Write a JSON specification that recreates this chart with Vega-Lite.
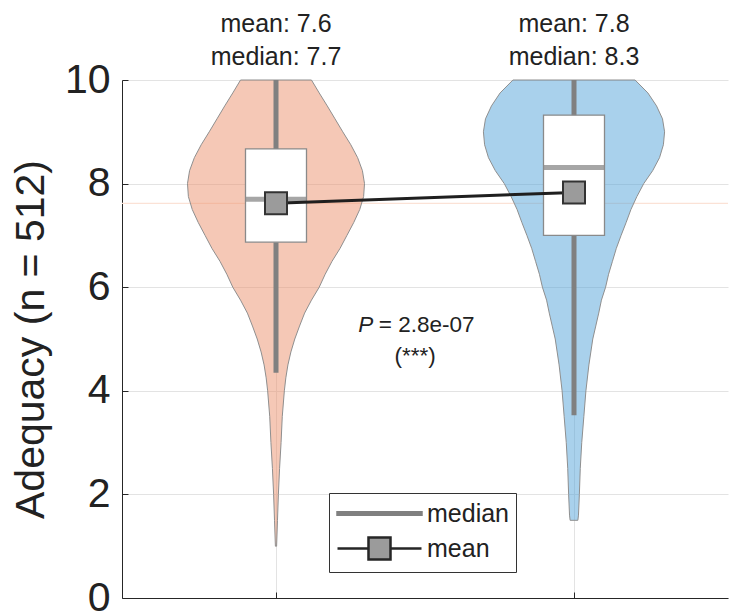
{
  "$schema": "https://vega.github.io/schema/vega-lite/v6.json",
  "width": 606,
  "height": 518,
  "autosize": {"type": "none"},
  "padding": {"left": 122, "top": 80, "right": 22, "bottom": 14},
  "background": "white",
  "config": {"view": {"stroke": null}, "font": "Liberation Sans"},
  "datasets": {
    "stats": [
      {"g": 1, "q1": 6.87, "q3": 8.67, "med": 7.7, "mean": 7.62, "wlo": 4.35, "whi": 10, "meanLabel": "mean: 7.6", "medLabel": "median: 7.7"},
      {"g": 2, "q1": 7.0, "q3": 9.32, "med": 8.31, "mean": 7.83, "wlo": 3.53, "whi": 10, "meanLabel": "mean: 7.8", "medLabel": "median: 8.3"}
    ],
    "v1": [
      {"y": 10.0, "lo": 0.881, "hi": 1.119},
      {"y": 9.75, "lo": 0.855, "hi": 1.145},
      {"y": 9.5, "lo": 0.828, "hi": 1.172},
      {"y": 9.25, "lo": 0.802, "hi": 1.198},
      {"y": 9.0, "lo": 0.776, "hi": 1.224},
      {"y": 8.75, "lo": 0.749, "hi": 1.251},
      {"y": 8.5, "lo": 0.726, "hi": 1.274},
      {"y": 8.25, "lo": 0.710, "hi": 1.290},
      {"y": 8.0, "lo": 0.703, "hi": 1.297},
      {"y": 7.75, "lo": 0.706, "hi": 1.294},
      {"y": 7.5, "lo": 0.719, "hi": 1.281},
      {"y": 7.25, "lo": 0.739, "hi": 1.261},
      {"y": 7.0, "lo": 0.762, "hi": 1.238},
      {"y": 6.75, "lo": 0.785, "hi": 1.215},
      {"y": 6.5, "lo": 0.812, "hi": 1.188},
      {"y": 6.25, "lo": 0.835, "hi": 1.165},
      {"y": 6.0, "lo": 0.855, "hi": 1.145},
      {"y": 5.75, "lo": 0.881, "hi": 1.119},
      {"y": 5.5, "lo": 0.904, "hi": 1.096},
      {"y": 5.25, "lo": 0.921, "hi": 1.079},
      {"y": 5.0, "lo": 0.937, "hi": 1.063},
      {"y": 4.75, "lo": 0.950, "hi": 1.050},
      {"y": 4.5, "lo": 0.960, "hi": 1.040},
      {"y": 4.25, "lo": 0.967, "hi": 1.033},
      {"y": 4.0, "lo": 0.972, "hi": 1.028},
      {"y": 3.5, "lo": 0.979, "hi": 1.021},
      {"y": 3.0, "lo": 0.983, "hi": 1.017},
      {"y": 2.5, "lo": 0.988, "hi": 1.012},
      {"y": 2.0, "lo": 0.992, "hi": 1.008},
      {"y": 1.5, "lo": 0.995, "hi": 1.005},
      {"y": 1.0, "lo": 0.998, "hi": 1.002}
    ],
    "v2": [
      {"y": 10.0, "lo": 1.795, "hi": 2.205},
      {"y": 9.75, "lo": 1.752, "hi": 2.248},
      {"y": 9.5, "lo": 1.723, "hi": 2.277},
      {"y": 9.25, "lo": 1.703, "hi": 2.297},
      {"y": 9.0, "lo": 1.696, "hi": 2.304},
      {"y": 8.75, "lo": 1.700, "hi": 2.300},
      {"y": 8.5, "lo": 1.713, "hi": 2.287},
      {"y": 8.25, "lo": 1.736, "hi": 2.264},
      {"y": 8.0, "lo": 1.766, "hi": 2.234},
      {"y": 7.75, "lo": 1.789, "hi": 2.211},
      {"y": 7.5, "lo": 1.809, "hi": 2.191},
      {"y": 7.25, "lo": 1.825, "hi": 2.175},
      {"y": 7.0, "lo": 1.842, "hi": 2.158},
      {"y": 6.75, "lo": 1.858, "hi": 2.142},
      {"y": 6.5, "lo": 1.871, "hi": 2.129},
      {"y": 6.25, "lo": 1.884, "hi": 2.116},
      {"y": 6.0, "lo": 1.894, "hi": 2.106},
      {"y": 5.75, "lo": 1.908, "hi": 2.092},
      {"y": 5.5, "lo": 1.917, "hi": 2.083},
      {"y": 5.25, "lo": 1.927, "hi": 2.073},
      {"y": 5.0, "lo": 1.937, "hi": 2.063},
      {"y": 4.5, "lo": 1.950, "hi": 2.050},
      {"y": 4.0, "lo": 1.960, "hi": 2.040},
      {"y": 3.5, "lo": 1.967, "hi": 2.033},
      {"y": 3.0, "lo": 1.974, "hi": 2.026},
      {"y": 2.5, "lo": 1.979, "hi": 2.021},
      {"y": 2.0, "lo": 1.982, "hi": 2.018},
      {"y": 1.6, "lo": 1.985, "hi": 2.015},
      {"y": 1.5, "lo": 1.987, "hi": 2.013}
    ],
    "ptext": [{"p": "P", "rest": "= 2.8e-07", "stars": "(***)"}],
    "legendItems": [{"kind": "median"}, {"kind": "mean"}]
  },
  "layer": [
    {
      "data": {"name": "stats"},
      "transform": [{"filter": "datum.g == 1"}],
      "mark": {"type": "rule", "color": "#fbe2d6", "strokeWidth": 1.2},
      "encoding": {
        "y": {
          "field": "mean", "type": "quantitative",
          "scale": {"domain": [0, 10], "nice": false, "zero": false},
          "axis": {
            "values": [0, 2, 4, 6, 8, 10],
            "title": "Adequacy (n = 512)",
            "titleFontSize": 41, "titleFontWeight": "normal", "titleColor": "#222222",
            "titleX": -91, "titleY": 259, "titleBaseline": "middle", "titleAlign": "center", "titleAngle": -90,
            "labelFontSize": 41, "labelColor": "#222222", "labelPadding": 18,
            "tickSize": -6, "tickColor": "#262626",
            "grid": true, "gridColor": "#e3e3e3",
            "domainColor": "#262626"
          }
        }
      }
    },
    {
      "data": {"name": "v1"},
      "mark": {"type": "area", "orient": "horizontal", "fill": "#EB916D", "fillOpacity": 0.5, "stroke": "#8f8f8f", "strokeWidth": 1},
      "encoding": {
        "y": {"field": "y", "type": "quantitative"},
        "x": {
          "field": "lo", "type": "quantitative",
          "scale": {"domain": [0.5, 2.5], "nice": false, "zero": false},
          "axis": {
            "values": [1, 2], "labels": false, "title": null,
            "grid": true, "gridColor": "#e3e3e3",
            "tickSize": -6, "tickColor": "#262626", "domainColor": "#262626"
          }
        },
        "x2": {"field": "hi"}
      }
    },
    {
      "data": {"name": "v2"},
      "mark": {"type": "area", "orient": "horizontal", "fill": "#53A3D9", "fillOpacity": 0.5, "stroke": "#8f8f8f", "strokeWidth": 1},
      "encoding": {
        "y": {"field": "y", "type": "quantitative"},
        "x": {"field": "lo", "type": "quantitative"},
        "x2": {"field": "hi"}
      }
    },
    {
      "data": {"name": "stats"},
      "mark": {"type": "rule", "color": "#808080", "strokeWidth": 5},
      "encoding": {
        "x": {"field": "g", "type": "quantitative"},
        "y": {"field": "wlo", "type": "quantitative"},
        "y2": {"field": "whi"}
      }
    },
    {
      "data": {"name": "stats"},
      "mark": {"type": "bar", "width": 61, "fill": "white", "stroke": "#8a8a8a", "strokeWidth": 1.3},
      "encoding": {
        "x": {"field": "g", "type": "quantitative"},
        "y": {"field": "q1", "type": "quantitative"},
        "y2": {"field": "q3"}
      }
    },
    {
      "data": {"name": "stats"},
      "mark": {"type": "tick", "orient": "horizontal", "size": 60, "thickness": 5, "color": "#808080"},
      "encoding": {
        "x": {"field": "g", "type": "quantitative"},
        "y": {"field": "med", "type": "quantitative"}
      }
    },
    {
      "data": {"name": "stats"},
      "mark": {"type": "line", "color": "#1f1f1f", "strokeWidth": 3},
      "encoding": {
        "x": {"field": "g", "type": "quantitative"},
        "y": {"field": "mean", "type": "quantitative"}
      }
    },
    {
      "data": {"name": "stats"},
      "mark": {"type": "point", "shape": "square", "size": 484, "filled": true, "fill": "#9b9b9b", "stroke": "#333333", "strokeWidth": 2, "opacity": 1},
      "encoding": {
        "x": {"field": "g", "type": "quantitative"},
        "y": {"field": "mean", "type": "quantitative"}
      }
    },
    {
      "data": {"name": "stats"},
      "mark": {"type": "text", "fontSize": 25, "color": "#222222", "dy": -48, "baseline": "alphabetic", "align": "center"},
      "encoding": {
        "x": {"field": "g", "type": "quantitative"},
        "y": {"field": "whi", "type": "quantitative"},
        "text": {"field": "meanLabel"}
      }
    },
    {
      "data": {"name": "stats"},
      "mark": {"type": "text", "fontSize": 25, "color": "#222222", "dy": -15, "baseline": "alphabetic", "align": "center"},
      "encoding": {
        "x": {"field": "g", "type": "quantitative"},
        "y": {"field": "whi", "type": "quantitative"},
        "text": {"field": "medLabel"}
      }
    },
    {
      "data": {"name": "ptext"},
      "mark": {"type": "text", "fontSize": 22.5, "fontStyle": "italic", "color": "#222222", "align": "left", "baseline": "middle"},
      "encoding": {
        "x": {"datum": 1.2756},
        "y": {"datum": 5.27},
        "text": {"field": "p"}
      }
    },
    {
      "data": {"name": "ptext"},
      "mark": {"type": "text", "fontSize": 22.5, "color": "#222222", "align": "left", "baseline": "middle"},
      "encoding": {
        "x": {"datum": 1.345},
        "y": {"datum": 5.27},
        "text": {"field": "rest"}
      }
    },
    {
      "data": {"name": "ptext"},
      "mark": {"type": "text", "fontSize": 22.5, "color": "#222222", "align": "center", "baseline": "middle"},
      "encoding": {
        "x": {"datum": 1.467},
        "y": {"datum": 4.68},
        "text": {"field": "stars"}
      }
    },
    {
      "data": {"name": "legendItems"},
      "mark": {"type": "point", "clip": true, "filled": true},
      "encoding": {
        "x": {"datum": 1},
        "y": {"datum": -5},
        "shape": {
          "field": "kind", "type": "nominal",
          "scale": {"domain": ["median", "mean"], "range": ["M-1,-0.1H6V0.1H-1Z", "M-1,0H1.583V-0.917H3.417V0.917H1.583V0M3.417,0H6"]},
          "legend": {"title": null, "orient": "none", "legendX": 207, "legendY": 413, "symbolSize": 576, "symbolStrokeWidth": 2.5, "labelFontSize": 25, "labelFont": "Liberation Sans", "labelColor": "#222222", "labelOffset": 64, "padding": 7, "strokeColor": "#333333", "fillColor": "white", "rowPadding": 5, "symbolOpacity": 1}
        },
        "fill": {
          "field": "kind", "type": "nominal",
          "scale": {"domain": ["median", "mean"], "range": ["#808080", "#9b9b9b"]},
          "legend": {"title": null, "orient": "none", "legendX": 207, "legendY": 413, "symbolSize": 576, "symbolStrokeWidth": 2.5, "labelFontSize": 25, "labelFont": "Liberation Sans", "labelColor": "#222222", "labelOffset": 64, "padding": 7, "strokeColor": "#333333", "fillColor": "white", "rowPadding": 5, "symbolOpacity": 1}
        },
        "stroke": {
          "field": "kind", "type": "nominal",
          "scale": {"domain": ["median", "mean"], "range": ["#808080", "#262626"]},
          "legend": {"title": null, "orient": "none", "legendX": 207, "legendY": 413, "symbolSize": 576, "symbolStrokeWidth": 2.5, "labelFontSize": 25, "labelFont": "Liberation Sans", "labelColor": "#222222", "labelOffset": 64, "padding": 7, "strokeColor": "#333333", "fillColor": "white", "rowPadding": 5, "symbolOpacity": 1}
        }
      }
    }
  ]
}
